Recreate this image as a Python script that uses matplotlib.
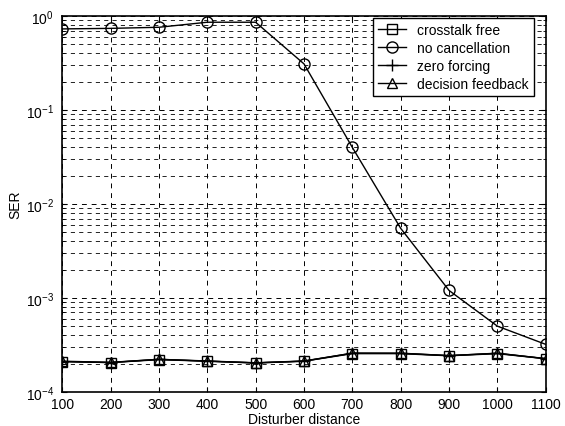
import numpy as np
import matplotlib.pyplot as plt
import matplotlib as mpl
from matplotlib.ticker import LogLocator, NullFormatter

mpl.rcParams['font.family'] = ['Liberation Sans', 'DejaVu Sans']

# data
distance = [100, 200, 300, 400, 500, 600, 700, 800, 900, 1000, 1100]
crosstalk_free = [2.10e-4, 2.05e-4, 2.20e-4, 2.12e-4, 2.03e-4, 2.12e-4, 2.55e-4, 2.55e-4, 2.42e-4, 2.55e-4, 2.25e-4]
no_cancellation = [0.73, 0.74, 0.76, 0.86, 0.86, 0.31, 0.040, 0.0055, 0.0012, 5.0e-4, 3.2e-4]
zero_forcing = [2.10e-4, 2.05e-4, 2.22e-4, 2.12e-4, 2.03e-4, 2.12e-4, 2.58e-4, 2.58e-4, 2.43e-4, 2.58e-4, 2.25e-4]
decision_feedback = [2.12e-4, 2.06e-4, 2.22e-4, 2.13e-4, 2.04e-4, 2.13e-4, 2.58e-4, 2.57e-4, 2.43e-4, 2.57e-4, 2.26e-4]

xticks = [100, 200, 300, 400, 500, 600, 700, 800, 900, 1000, 1100]

fig = plt.figure(figsize=(5.65, 4.27), dpi=100)
ax = fig.add_axes([0.110, 0.080, 0.856, 0.880])

ms = 7
ax.semilogy(distance, crosstalk_free, 'k-', marker='s', mfc='none', ms=ms, lw=1, label='crosstalk free')
ax.semilogy(distance, no_cancellation, 'k-', marker='o', mfc='none', ms=ms + 1, lw=1, label='no cancellation')
ax.semilogy(distance, zero_forcing, 'k-', marker='+', ms=ms + 2, lw=1, label='zero forcing')
ax.semilogy(distance, decision_feedback, 'k-', marker='^', mfc='none', ms=ms, lw=1, label='decision feedback')

ax.set_xlim(100, 1100)
ax.set_ylim(1e-4, 1)
ax.set_xticks(xticks)
ax.yaxis.set_major_locator(LogLocator(base=10, numticks=10))
ax.yaxis.set_minor_locator(LogLocator(base=10, subs=np.arange(2, 10), numticks=10))
ax.yaxis.set_minor_formatter(NullFormatter())

ax.grid(True, which='major', color='k', linestyle=(0, (5, 5)), lw=0.7)
ax.grid(True, which='minor', axis='y', color='k', linestyle=(0, (5, 5)), lw=0.6)

ax.tick_params(direction='in', which='both', top=True, right=True, labelsize=10)
ax.tick_params(axis='y', pad=6)
for s in ax.spines.values():
    s.set_linewidth(1.2)

ax.set_xlabel('Disturber distance', fontsize=10, labelpad=1)
ax.set_ylabel('SER', fontsize=10, labelpad=2)

leg = ax.legend(loc='upper right', bbox_to_anchor=(0.975, 0.995), fontsize=10,
                frameon=True, fancybox=False, edgecolor='k', framealpha=1,
                borderaxespad=0, handlelength=2.0, labelspacing=0.3, borderpad=0.35)
leg.get_frame().set_linewidth(1.0)

fig.savefig('out.png', dpi=100)
